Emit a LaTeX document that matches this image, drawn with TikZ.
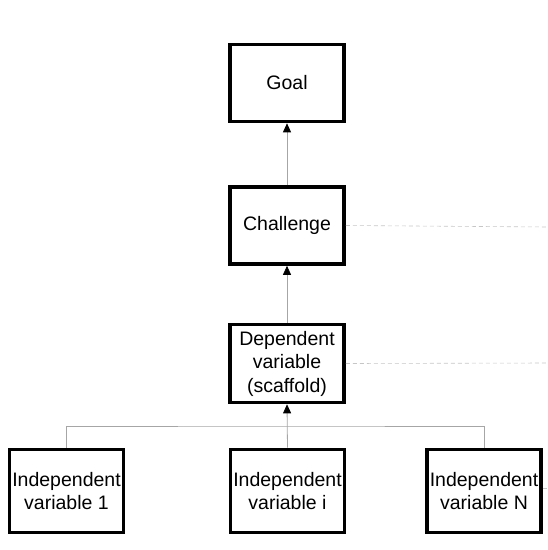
\documentclass[tikz,border=0pt]{standalone}
\usepackage{fontspec}
\setmainfont{Liberation Sans}
\usetikzlibrary{arrows.meta}
\begin{document}
\begin{tikzpicture}[x=1pt,y=-1pt,
  box/.style={draw=black,line width=3.6pt,fill=white,minimum width=114pt,minimum height=#1,inner sep=0pt,align=center,font=\fontsize{19.5}{23.5}\selectfont},
  box/.default=77pt,
  link/.style={draw=gray!70,line width=0.8pt},
  arr/.style={link,-{Triangle[length=9pt,width=8pt,fill=black,color=black]}},
  guide/.style={draw=gray!45,line width=0.6pt,dash pattern=on 4pt off 3pt}]
\useasboundingbox (0,0) rectangle (548,550);
\node[box] (goal) at (287,83) {Goal};
\node[box] (chal) at (287,225.5) {Challenge};
\node[box=78pt] (dep) at (287,363.5) {Dependent\\variable\\(scaffold)};
\node[box=83pt] (iv1) at (66.5,491) {Independent\\variable 1};
\node[box=83pt] (ivi) at (287.5,491) {Independent\\variable i};
\node[box=83pt] (ivn) at (484,491) {Independent\\variable N};
\coordinate (c1) at (548,227);
\coordinate (c2) at (548,363);
\coordinate (c3) at (548,488);
\coordinate (junc) at (287,426);
\draw[arr] (chal) -- (goal);
\draw[arr] (dep) -- (chal);
\draw[link] (iv1.north) |- (junc) -| (ivn.north);
\draw[arr] (ivi.north) -- (dep.south);
\draw[guide] (chal.east) -- (c1);
\draw[guide] (dep.east) -- (c2);
\draw[guide] (ivn.east |- c3) -- (c3);
\end{tikzpicture}
\end{document}
